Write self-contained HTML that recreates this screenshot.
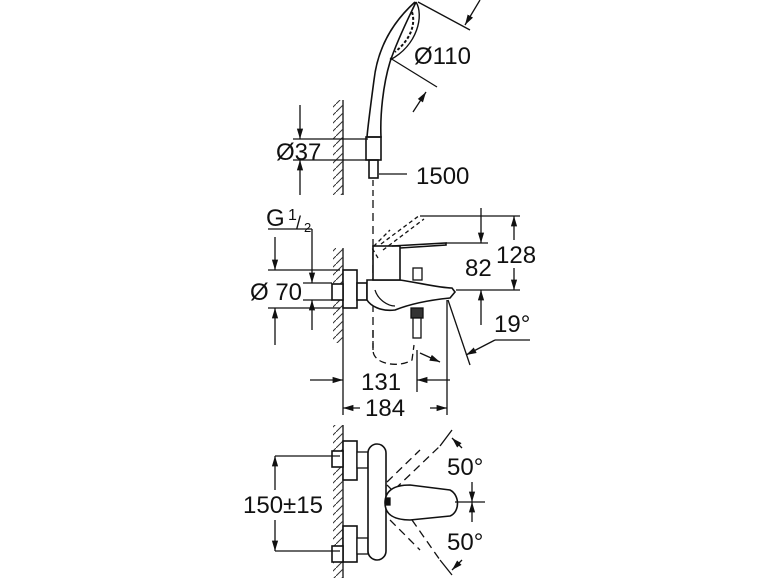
<!DOCTYPE html>
<html><head><style>
html,body{margin:0;padding:0;background:#fff;}
svg{display:block;font-family:"Liberation Sans",sans-serif;}
text{font-size:24px;fill:#111;}
</style></head><body>
<svg width="770" height="578" viewBox="0 0 770 578" xmlns="http://www.w3.org/2000/svg">
<defs>
<pattern id="h" width="8" height="8" patternUnits="userSpaceOnUse"><path d="M0 8 L8 0" stroke="#333" stroke-width="1"/></pattern>
<marker id="a" viewBox="0 0 10 10" refX="10" refY="5" markerWidth="8" markerHeight="8" orient="auto-start-reverse"><path d="M0 2 L10 5 L0 8 z" fill="#111"/></marker>
</defs>
<g stroke="#111" stroke-width="1.3" fill="none">
<line x1="343" y1="100" x2="343" y2="195"/>
<rect x="333" y="100" width="10" height="95" fill="url(#h)" stroke="none"/>
<path d="M415 2 C395 20 378 45 374 80 C370 110 368 125 367 137 L381 137 C380 115 383 85 390 62 C398 38 410 15 416 2" stroke-width="1.6"/>
<path d="M416 2 C424 15 418 45 390 60" stroke-width="1.4"/>
<path d="M412 12 C416 25 410 40 395 52" stroke-dasharray="3 2" stroke-width="2"/>
<rect x="366" y="137" width="15" height="23" stroke-width="1.6"/>
<rect x="369" y="160" width="9" height="18" stroke-width="1.6"/>
<line x1="373" y1="180" x2="373" y2="200" stroke-dasharray="6 4"/>
<line x1="418" y1="2" x2="470" y2="30"/>
<line x1="390" y1="58" x2="437" y2="87"/>
<line x1="480" y1="0" x2="465" y2="25" marker-end="url(#a)"/>
<line x1="413" y1="112" x2="426" y2="92" marker-end="url(#a)"/>
<line x1="293" y1="139" x2="368" y2="139"/>
<line x1="293" y1="160" x2="368" y2="160"/>
<line x1="300" y1="105" x2="300" y2="139" marker-end="url(#a)"/>
<line x1="300" y1="195" x2="300" y2="160" marker-end="url(#a)"/>
<line x1="379" y1="174" x2="407" y2="174"/>

<line x1="373" y1="200" x2="373" y2="350" stroke-dasharray="8 5"/>
<line x1="343" y1="248" x2="343" y2="415"/>
<rect x="333" y="248" width="10" height="95" fill="url(#h)" stroke="none"/>
<rect x="343" y="270" width="14" height="38" fill="#fff" stroke-width="1.6"/>
<rect x="332" y="284" width="11" height="16" fill="#fff" stroke-width="1.6"/>
<rect x="357" y="283" width="10" height="17" fill="#fff" stroke-width="1.6"/>
<path d="M367 280 L400 280 C420 283 440 288 452 288 L455 292 L450 298 C430 300 410 304 395 310 C380 312 370 305 367 300 Z" fill="#fff" stroke-width="1.6"/>
<path d="M375 290 C378 300 388 306 395 306" />
<rect x="373" y="246" width="27" height="34" fill="#fff" stroke-width="1.6"/>
<path d="M392 246 L446 243 L446 245 L400 248" stroke-width="1.6"/>
<path d="M381 244 L420 215 M383 250 L424 219 M378 258 L372 248 L390 230" stroke-dasharray="4 3"/>
<rect x="413" y="268" width="9" height="12" fill="#fff"/>
<rect x="411" y="308" width="12" height="10" fill="#333"/>
<rect x="413" y="318" width="8" height="20" fill="#fff"/>
<path d="M373 330 L373 350 C373 365 400 368 412 360 L414 345" stroke-dasharray="7 4"/>
<path d="M420 353 L440 362" marker-end="url(#a)"/>
<line x1="268" y1="229" x2="312" y2="229"/>
<line x1="312" y1="229" x2="312" y2="283" marker-end="url(#a)"/>
<line x1="312" y1="330" x2="312" y2="300" marker-end="url(#a)"/>
<line x1="268" y1="270" x2="340" y2="270"/>
<line x1="268" y1="308" x2="340" y2="308"/>
<line x1="275" y1="237" x2="275" y2="270" marker-end="url(#a)"/>
<line x1="275" y1="345" x2="275" y2="308" marker-end="url(#a)"/>
<line x1="303" y1="283" x2="332" y2="283"/>
<line x1="303" y1="300" x2="332" y2="300"/>
<line x1="446" y1="243" x2="488" y2="243"/>
<line x1="420" y1="216" x2="520" y2="216"/>
<line x1="456" y1="290" x2="520" y2="290"/>
<line x1="481" y1="208" x2="481" y2="243" marker-end="url(#a)"/>
<line x1="481" y1="325" x2="481" y2="290" marker-end="url(#a)"/>
<line x1="514" y1="216" x2="514" y2="240" marker-start="url(#a)"/>
<line x1="514" y1="268" x2="514" y2="290" marker-end="url(#a)"/>
<line x1="448" y1="300" x2="470" y2="365"/>
<line x1="495" y1="340" x2="466" y2="355" marker-end="url(#a)"/>
<line x1="495" y1="340" x2="530" y2="340"/>
<line x1="447" y1="300" x2="447" y2="415"/>
<line x1="417" y1="350" x2="417" y2="392"/>
<line x1="310" y1="380" x2="343" y2="380" marker-end="url(#a)"/>
<line x1="450" y1="380" x2="417" y2="380" marker-end="url(#a)"/>
<line x1="360" y1="408" x2="343" y2="408" marker-end="url(#a)"/>
<line x1="430" y1="408" x2="447" y2="408" marker-end="url(#a)"/>

<line x1="343" y1="425" x2="343" y2="578"/>
<rect x="333" y="425" width="10" height="153" fill="url(#h)" stroke="none"/>
<rect x="343" y="441" width="14" height="39" fill="#fff" stroke-width="1.6"/>
<rect x="343" y="526" width="14" height="36" fill="#fff" stroke-width="1.6"/>
<rect x="332" y="451" width="11" height="16" fill="#fff" stroke-width="1.6"/>
<rect x="332" y="546" width="11" height="16" fill="#fff" stroke-width="1.6"/>
<rect x="357" y="452" width="11" height="16" fill="#fff"/>
<rect x="357" y="538" width="11" height="16" fill="#fff"/>
<rect x="368" y="444" width="18" height="116" rx="9" fill="#fff" stroke-width="1.6"/>
<path d="M387 482 L420 450 M420 518 L387 485 M390 520 L420 550" stroke-dasharray="8 5"/>
<path d="M395 489 L440 446 M412 520 L440 560" stroke-dasharray="8 5"/>
<line x1="440" y1="446" x2="452" y2="430"/>
<line x1="440" y1="560" x2="452" y2="575"/>
<path d="M385 503 C385 490 395 485 410 485 L450 490 C460 495 460 512 450 516 L410 520 C395 520 385 515 385 503 Z" fill="#fff" stroke-width="1.6"/>
<rect x="386" y="498" width="4" height="7" fill="#111"/>
<line x1="275" y1="456" x2="340" y2="456"/>
<line x1="275" y1="551" x2="340" y2="551"/>
<line x1="275" y1="490" x2="275" y2="456" marker-end="url(#a)"/>
<line x1="275" y1="520" x2="275" y2="551" marker-end="url(#a)"/>
<line x1="455" y1="502" x2="485" y2="502"/>
<line x1="472" y1="482" x2="472" y2="502" marker-end="url(#a)"/>
<line x1="472" y1="522" x2="472" y2="502" marker-end="url(#a)"/>
<line x1="462" y1="448" x2="452" y2="438" marker-end="url(#a)"/>
<line x1="462" y1="560" x2="452" y2="570" marker-end="url(#a)"/>
</g>
<text x="414" y="64">Ø110</text>
<text x="276" y="160">Ø37</text>
<text x="416" y="184">1500</text>
<text x="266" y="226">G</text><text x="288" y="220" style="font-size:16px">1</text><text x="296" y="229" style="font-size:18px">/</text><text x="304" y="232" style="font-size:13px">2</text>
<text x="250" y="300">Ø 70</text>
<text x="465" y="276">82</text>
<text x="496" y="263">128</text>
<text x="494" y="332">19°</text>
<text x="361" y="390">131</text>
<text x="365" y="416">184</text>
<text x="243" y="513">150±15</text>
<text x="447" y="475">50°</text>
<text x="447" y="550">50°</text>
</svg>
</body></html>
